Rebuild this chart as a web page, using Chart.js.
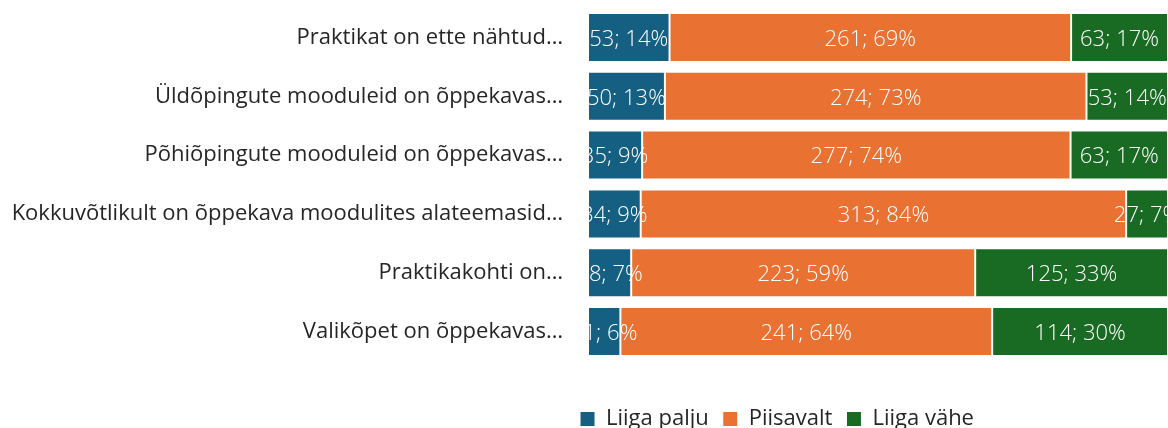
<!DOCTYPE html>
<html>
<head>
<meta charset="utf-8">
<script src="https://cdn.jsdelivr.net/npm/chart.js@4"></script>
<style>
  html, body { margin: 0; padding: 0; background: #fff; }
  #wrap { width: 1168px; height: 428px; position: relative; }
</style>
</head>
<body>
<div id="wrap"><canvas id="chart"></canvas></div>
<script>
const categories = [
  'Praktikat on ette nähtud…',
  'Üldõpingute mooduleid on õppekavas…',
  'Põhiõpingute mooduleid on õppekavas…',
  'Kokkuvõtlikult on õppekava moodulites alateemasid…',
  'Praktikakohti on…',
  'Valikõpet on õppekavas…'
];
const seriesNames = ['Liiga palju', 'Piisavalt', 'Liiga vähe'];
const liigaPalju = [53, 50, 35, 34, 28, 21];
const piisavalt = [261, 274, 277, 313, 223, 241];
const liigaVahe = [63, 53, 63, 27, 125, 114];
const colors = ['#156082', '#E97132', '#196B24'];

const FONT = '"Open Sans", "Noto Sans", sans-serif';

const counts = [liigaPalju, piisavalt, liigaVahe];
const totals = categories.map((c, i) => liigaPalju[i] + piisavalt[i] + liigaVahe[i]);

// values shown as % of row total, label keeps the count too
const datasets = counts.map((arr, k) => ({
  label: seriesNames[k],
  counts: arr,
  data: arr.map((v, i) => v / totals[i] * 100),
  backgroundColor: colors[k],
  borderColor: '#ffffff',
  borderWidth: 1,
  borderSkipped: false,
  barPercentage: 0.832,
  categoryPercentage: 1
}));

const segmentLabels = {
  id: 'segmentLabels',
  afterDatasetsDraw(chart) {
    const { ctx, chartArea } = chart;
    ctx.save();
    ctx.beginPath();
    ctx.rect(chartArea.left, 0, chart.width - chartArea.left, chart.height);
    ctx.clip();
    ctx.font = '300 22px ' + FONT;
    ctx.fillStyle = '#ffffff';
    ctx.textAlign = 'center';
    ctx.textBaseline = 'middle';
    chart.data.datasets.forEach((ds, i) => {
      chart.getDatasetMeta(i).data.forEach((bar, j) => {
        const cx = (bar.x + bar.base) / 2;
        ctx.fillText(ds.counts[j] + '; ' + Math.round(ds.data[j]) + '%', cx, bar.y + 2);
      });
    });
    ctx.restore();
  }
};

// legend sits lower and a bit right of the canvas centre in the original
const legendShift = {
  id: 'legendShift',
  afterLayout(chart) {
    const lg = chart.legend;
    lg.left = 386;
    lg.right = 1168;
    lg.top += 33;
    lg.bottom += 33;
  }
};

new Chart(document.getElementById('chart'), {
  type: 'bar',
  data: { labels: categories, datasets: datasets },
  plugins: [segmentLabels, legendShift],
  options: {
    indexAxis: 'y',
    responsive: true,
    maintainAspectRatio: false,
    animation: false,
    layout: { padding: { top: 8, bottom: 21, left: 0, right: 0 } },
    scales: {
      x: { stacked: true, min: 0, max: 100, display: false },
      y: {
        stacked: true,
        grid: { display: false, drawTicks: false },
        border: { display: false },
        ticks: { padding: 25, color: '#262626', font: { family: FONT, size: 22 } },
        afterFit(scale) {
          scale.width = 588;
          scale.paddingTop = 0;
          scale.paddingBottom = 0;
        }
      }
    },
    plugins: {
      tooltip: { enabled: false },
      legend: {
        position: 'bottom',
        labels: {
          boxWidth: 15,
          boxHeight: 15,
          padding: 14,
          color: '#262626',
          font: { family: FONT, size: 22 }
        }
      }
    }
  }
});
</script>
</body>
</html>
